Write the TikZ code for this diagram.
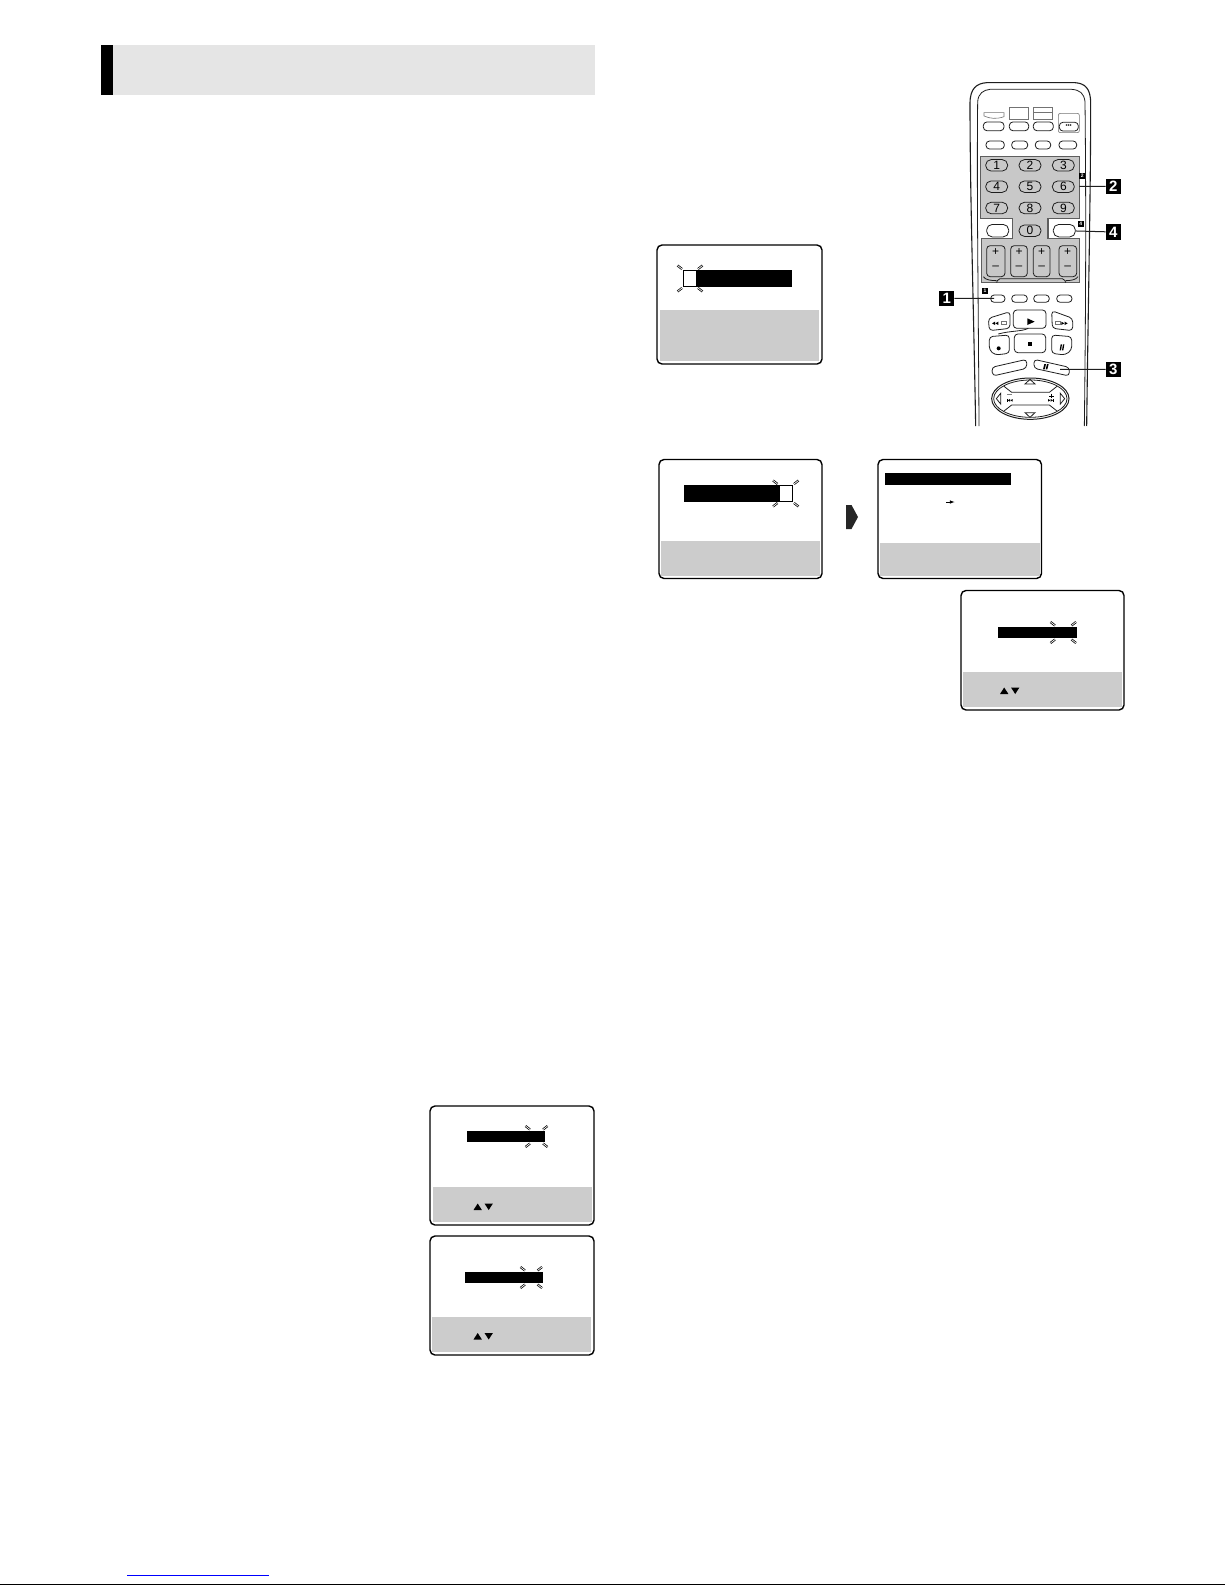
\documentclass[tikz,border=0pt]{standalone}
\usepackage{fontspec}
\setmainfont{Liberation Sans}
\definecolor{panelgray}{HTML}{CCCCCC}
\definecolor{headgray}{HTML}{E5E5E5}
\definecolor{padgray}{HTML}{C8C8C8}
\definecolor{padedge}{HTML}{5E5E5E}
\definecolor{inkgray}{HTML}{1E1E1E}
\tikzset{
    screen/.style={draw=black, fill=white, line width=1.4pt, rounded corners=5pt},
    panel/.style={fill=panelgray},
    bar/.style={fill=black},
    cell/.style={draw=black, fill=white, line width=1.1pt},
    blink/.style={draw=black, double=white, double distance=0.7pt, line width=0.75pt},
    key/.style={draw=inkgray, line width=0.8pt, rounded corners=3.5pt},
    numkey/.style={draw=inkgray, line width=0.8pt, rounded corners=5.5pt, minimum width=22pt, minimum height=11.5pt, inner sep=0pt, font=\fontsize{12}{12}\selectfont},
    signlabel/.style={inner sep=0pt, font=\fontsize{12}{12}\selectfont},
    tag/.style={fill=black, text=white, minimum width=15pt, minimum height=15.5pt, inner sep=0pt, font=\fontsize{15}{15}\selectfont\bfseries},
    minitag/.style={fill=black, text=white, minimum width=6pt, minimum height=6pt, inner sep=0pt, font=\fontsize{5}{5}\selectfont\bfseries},
    leader/.style={draw=inkgray, line width=1pt},
    shell/.style={draw=inkgray, line width=0.8pt},
    faint/.style={draw=black!55, line width=0.6pt}
}
\newcommand{\blinkrays}[4]{
    \draw[blink] (#1-1.5,#2-1.5) -- (#1-6,#2-5);
    \draw[blink] (#3+1.5,#2-1.5) -- (#3+6,#2-5);
    \draw[blink] (#1-1.5,#4+1.5) -- (#1-6,#4+5);
    \draw[blink] (#3+1.5,#4+1.5) -- (#3+6,#4+5);
}
\newcommand{\updown}[2]{
    \fill (#1,#2+6.5) -- (#1+4.2,#2) -- (#1+8.4,#2+6.5) -- cycle;
    \fill (#1+11,#2) -- (#1+19.4,#2) -- (#1+15.2,#2+6.5) -- cycle;
}
\begin{document}
\begin{tikzpicture}[x=1pt,y=-1pt]
    \useasboundingbox (0,0) rectangle (1225,1585);

    \fill[headgray] (101,44.5) rectangle (595,95);
    \fill[black] (101,44.5) rectangle (113,95);

    \draw[screen] (657,245) rectangle (822,364);
    \fill[panel] (660,310) rectangle (819,361);
    \fill[bar] (697,270) rectangle (792,287);
    \draw[cell] (683.5,270.5) rectangle (696.5,286.5);
    \blinkrays{683.5}{270.5}{696.5}{286.5}

    \draw[screen] (659,459.5) rectangle (822,578.5);
    \fill[panel] (661,540.5) rectangle (820,576);
    \fill[bar] (684,485) rectangle (779,502);
    \draw[cell] (779,485.5) rectangle (792.5,501.5);
    \blinkrays{779}{485.5}{792.5}{501.5}

    \fill[black!85] (846,505) -- (851.5,505) -- (858,517) -- (851.5,529) -- (846,529) -- cycle;

    \draw[screen] (878,459.5) rectangle (1041.5,578.5);
    \fill[panel] (880,543) rectangle (1039.5,576);
    \fill[bar] (885,473) rectangle (1011,485);
    \draw[-latex, line width=0.6pt] (946,502) -- (954.5,502);

    \draw[screen] (961,590.5) rectangle (1124,710);
    \fill[panel] (963,672) rectangle (1122,707);
    \fill[bar] (998,627) rectangle (1077,638);
    \blinkrays{1056.5}{627}{1070}{638}
    \updown{1000}{687.5}

    \draw[screen] (430,1106) rectangle (594,1225);
    \fill[panel] (433,1187) rectangle (592,1222);
    \fill[bar] (467,1131) rectangle (545,1142);
    \blinkrays{531.5}{1131}{541.5}{1142}
    \updown{473.5}{1203.5}

    \draw[screen] (430,1236) rectangle (594,1355);
    \fill[panel] (432,1317) rectangle (591,1352);
    \fill[bar] (465,1272) rectangle (543,1283);
    \blinkrays{526.5}{1272}{536}{1283}
    \updown{473.5}{1333}

    \draw[blue, line width=1pt] (127,1575) -- (269,1575);
    \draw[black, line width=1pt] (0,1584) -- (1225,1584);

    \begin{scope}[shift={(930,60)}, scale=1/3]
        \draw[shell, line width=1.1pt] (137,1098) .. controls (130,700) and (120,400) .. (120,130) .. controls (120,85) and (140,70) .. (170,68) -- (435,68) .. controls (465,70) and (482,85) .. (482,130) .. controls (482,400) and (475,700) .. (470,1098);
        \draw[shell] (147,1098) .. controls (145,700) and (140,400) .. (143,125) .. controls (145,100) and (160,90) .. (180,88) -- (425,88) .. controls (450,90) and (462,100) .. (465,125) .. controls (468,400) and (468,700) .. (463,1098);

        \draw[faint] (162,158) -- (222,158) -- (222,170) .. controls (200,178) and (180,176) .. (162,168) -- cycle;
        \draw[faint] (238,143) rectangle (294,178);
        \draw[faint] (310,143) rectangle (367,178);
        \draw[faint] (310,158) -- (367,158);
        \draw[faint, rounded corners=2pt] (385,160) rectangle (448,218);
        \draw[key] (160,186) rectangle (222,212);
        \draw[key] (238,186) rectangle (296,212);
        \draw[key] (310,186) rectangle (370,212);
        \draw[key] (388,187) rectangle (445,213);
        \node[font=\fontsize{6}{6}\selectfont] (dots) at (416,197) {•••};

        \draw[key] (168,243) rectangle (223,267);
        \draw[key] (245,243) rectangle (293,267);
        \draw[key] (316,243) rectangle (362,267);
        \draw[key] (387,243) rectangle (440,267);

        \draw[draw=padedge, fill=padgray, line width=1.4pt] (152,290) -- (448,290) -- (448,475) -- (354,475) -- (354,535) -- (448,535) -- (448,668) -- (155,668) -- (155,535) -- (248,535) -- (248,475) -- (152,475) -- cycle;

        \node[numkey] (keyone) at (200,316) {1};
        \node[numkey] (keytwo) at (300,316) {2};
        \node[numkey] (keythree) at (400,316) {3};
        \node[numkey] (keyfour) at (200,380) {4};
        \node[numkey] (keyfive) at (300,380) {5};
        \node[numkey] (keysix) at (400,380) {6};
        \node[numkey] (keyseven) at (200,444) {7};
        \node[numkey] (keyeight) at (300,444) {8};
        \node[numkey] (keynine) at (400,444) {9};
        \node[numkey] (keyzero) at (300,512) {0};
        \node[numkey, minimum height=12.5pt] (keyleft) at (203,512) {};
        \node[numkey, minimum height=12.5pt] (keyright) at (403,512) {};

        \draw[key] (170,557) rectangle (225,650);
        \draw[key] (242,557) rectangle (292,650);
        \draw[key] (310,557) rectangle (360,650);
        \draw[key] (387,557) rectangle (440,650);
        \node[signlabel] (plusa) at (197,577) {+};
        \node[signlabel] (plusb) at (267,577) {+};
        \node[signlabel] (plusc) at (335,577) {+};
        \node[signlabel] (plusd) at (413,577) {+};
        \node[signlabel] (minusa) at (197,624) {–};
        \node[signlabel] (minusb) at (267,624) {–};
        \node[signlabel] (minusc) at (335,624) {–};
        \node[signlabel] (minusd) at (413,624) {–};
        \draw[shell, rounded corners=2pt] (200,668) -- (204,656) -- (403,656) -- (407,668);
        \draw[shell] (160,650) .. controls (165,660) and (185,662) .. (200,662);
        \draw[shell] (407,662) .. controls (420,662) and (438,660) .. (444,650);

        \draw[key] (182,705) rectangle (225,727);
        \draw[key] (245,705) rectangle (292,727);
        \draw[key] (311,705) rectangle (358,727);
        \draw[key] (380,705) rectangle (426,727);

        \draw[key] (175,775) -- (240,755) -- (240,805) -- (178,812) -- cycle;
        \draw[key] (250,750) rectangle (348,805);
        \draw[key] (365,752) -- (428,775) -- (428,812) -- (367,805) -- cycle;
        \draw[key] (178,830) -- (238,825) -- (238,880) -- (195,885) -- (178,870) -- cycle;
        \draw[key] (253,822) rectangle (347,878);
        \draw[key] (365,825) -- (425,830) -- (425,870) -- (405,885) -- (365,880) -- cycle;
        \draw[shell] (205,822) .. controls (240,812) and (275,815) .. (295,805);
        \fill (186,790) -- (195,785) -- (195,795) -- cycle;
        \fill (196,790) -- (205,785) -- (205,795) -- cycle;
        \draw[faint] (214,783) rectangle (228,793);
        \fill (292,775) -- (314,785) -- (292,795) -- cycle;
        \draw[faint] (376,783) rectangle (390,793);
        \fill (394,785) -- (403,790) -- (394,795) -- cycle;
        \fill (404,785) -- (413,790) -- (404,795) -- cycle;
        \fill (206,865) circle (6);
        \fill (293,845) rectangle (307,859);
        \fill (389,871) -- (393,871) -- (396,853) -- (392,853) -- cycle;
        \fill (396,871) -- (400,871) -- (403,853) -- (399,853) -- cycle;

        \draw[key] (185,922) -- (290,898) -- (290,925) -- (188,948) -- cycle;
        \draw[key] (312,898) -- (418,922) -- (418,948) -- (312,925) -- cycle;
        \fill (339,928) -- (344,928) -- (348,912) -- (343,912) -- cycle;
        \fill (347,928) -- (352,928) -- (356,912) -- (351,912) -- cycle;

        \draw[shell, line width=1pt] (301,1016) ellipse (116 and 62);
        \draw[shell] (301,1016) ellipse (110 and 56);
        \draw[shell] (222,979) -- (245,997) -- (358,997) -- (381,979);
        \draw[shell] (222,1053) -- (245,1035) -- (358,1035) -- (381,1053);
        \draw[shell] (285,972) -- (300,958) -- (315,972) -- cycle;
        \draw[shell] (285,1058) -- (300,1072) -- (315,1058) -- cycle;
        \draw[shell] (212,1000) -- (199,1016) -- (212,1032) -- cycle;
        \draw[shell] (391,1000) -- (404,1016) -- (391,1032) -- cycle;
        \fill[black!50] (232,1003) rectangle (246,1005);
        \fill (230,1017) rectangle (232,1025);
        \fill (233,1021) -- (240,1017) -- (240,1025) -- cycle;
        \fill (241,1021) -- (248,1017) -- (248,1025) -- cycle;
        \draw[line width=0.9pt] (358,1008) -- (372,1008) (365,1001) -- (365,1015);
        \fill (354,1017) -- (361,1021) -- (354,1025) -- cycle;
        \fill (362,1017) -- (369,1021) -- (362,1025) -- cycle;
        \fill (370,1017) rectangle (372,1025);

        \node[tag] (tagtwo) at (550,379) {2};
        \node[tag] (tagfour) at (550,516) {4};
        \node[tag] (tagone) at (50,715) {1};
        \node[tag] (tagthree) at (550,928) {3};
        \coordinate (padside) at (448,379);
        \draw[leader] (tagtwo) -- (padside);
        \draw[leader] (tagfour) -- (keyright);
        \coordinate (memokey) at (192,715);
        \draw[leader] (tagone) -- (memokey);
        \coordinate (menukey) at (390,928);
        \draw[leader] (tagthree) -- (menukey);

        \node[minitag] (minitwo) at (457,347) {2};
        \node[minitag] (minifour) at (452,492) {4};
        \node[minitag] (minione) at (165,692) {1};
    \end{scope}
\end{tikzpicture}
\end{document}
